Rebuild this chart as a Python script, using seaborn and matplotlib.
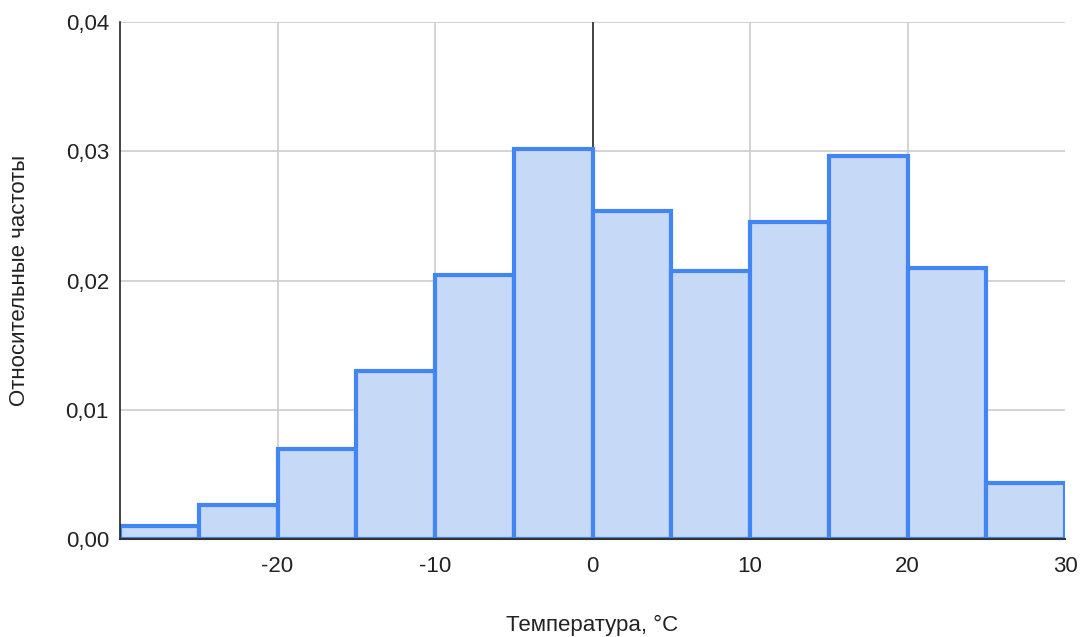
import matplotlib
matplotlib.use("Agg")
import matplotlib.pyplot as plt
import seaborn as sns
import numpy as np
from matplotlib.ticker import FuncFormatter

bin_edges = [-30, -25, -20, -15, -10, -5, 0, 5, 10, 15, 20, 25, 30]
rel_freq = [0.0010, 0.0026, 0.0070, 0.0130, 0.0204, 0.0302, 0.0254, 0.0207, 0.0245, 0.0296, 0.0210, 0.0043]
x_ticks = [-20, -10, 0, 10, 20, 30]
y_ticks = [0.0, 0.01, 0.02, 0.03, 0.04]

sns.set_theme(style="white")
plt.rcParams['font.family'] = ['Liberation Sans', 'DejaVu Sans']

centers = [(a + b) / 2 for a, b in zip(bin_edges[:-1], bin_edges[1:])]

fig = plt.figure(figsize=(10.81, 6.37), dpi=100)
ax = fig.add_axes([120/1081, 98/637, (1065-120)/1081, (539-22)/637])

sns.histplot(x=centers, weights=rel_freq, bins=bin_edges, ax=ax,
             color="#C6D9F7", edgecolor="#4285F4", linewidth=3, alpha=1.0,
             zorder=3)
for p in ax.patches:
    p.set_facecolor("#C6D9F7")
    p.set_edgecolor("#4285F4")
    p.set_clip_on(True)

ax.set_xlim(-30, 30)
ax.set_ylim(0, 0.04)
ax.set_xticks(x_ticks)
ax.set_yticks(y_ticks)
ax.xaxis.set_major_formatter(FuncFormatter(lambda v, p: f"{int(round(v))}".replace("\u2212", "-")))
ax.yaxis.set_major_formatter(FuncFormatter(lambda v, p: f"{v:.2f}".replace(".", ",")))

for t in x_ticks:
    if t in (0, 30):
        continue
    ax.axvline(t, color="#cccccc", linewidth=1.2, zorder=1)
for t in y_ticks[1:]:
    ax.axhline(t, color="#cccccc", linewidth=1.2, zorder=1)
ax.axvline(0, color="#222222", linewidth=1.2, zorder=2)

for s in ["top", "right"]:
    ax.spines[s].set_visible(False)
ax.spines["left"].set_color("#222222")
ax.spines["left"].set_linewidth(1.2)
ax.spines["bottom"].set_color("#333333")
ax.spines["bottom"].set_linewidth(1.5)
ax.spines["left"].set_zorder(5)
ax.spines["bottom"].set_zorder(5)

ax.tick_params(axis="both", length=0, labelsize=16, colors="#222222")
ax.tick_params(axis="x", pad=12)
ax.tick_params(axis="y", pad=8)

ax.set_xlabel("Температура, °C", fontsize=16, color="#222222", ha="center", va="center")
ax.set_ylabel("Относительные частоты", fontsize=16, color="#222222", ha="center", va="center")
ax.xaxis.set_label_coords(0.5, (539 - 625) / 517)
ax.yaxis.set_label_coords((20 - 120) / 945, 0.5)

fig.savefig("out.png", dpi=100)
